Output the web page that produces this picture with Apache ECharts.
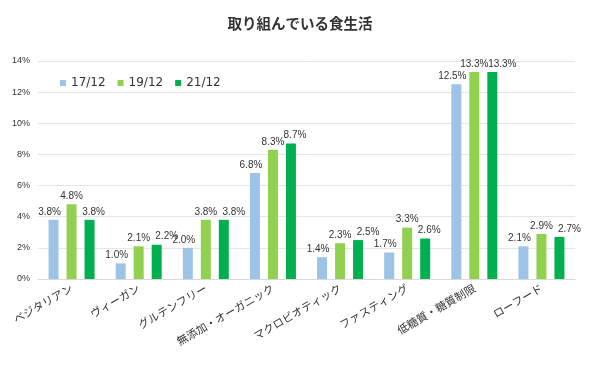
<!DOCTYPE html>
<html><head><meta charset="utf-8">
<script src="https://cdn.jsdelivr.net/npm/echarts@6/dist/echarts.min.js"></script>
<style>html,body{margin:0;padding:0;background:#fff}#c{width:600px;height:369px}</style>
</head><body><div id="c"></div>
<script>
const categories = ['ベジタリアン','ヴィーガン','グルテンフリー','無添加・オーガニック','マクロビオティック','ファスティング','低糖質・糖質制限','ローフード'];
const seriesNames = ['17/12','19/12','21/12'];
const s1712 = [3.8,1.0,2.0,6.8,1.4,1.7,12.5,2.1];
const s1912 = [4.8,2.1,3.8,8.3,2.3,3.3,13.3,2.9];
const s2112 = [3.8,2.2,3.8,8.7,2.5,2.6,13.3,2.7];
const colors = ['#9dc3e6','#92d050','#00b050'];
const font = '"Noto Sans CJK JP", "Liberation Sans", sans-serif';
const chart = echarts.init(document.getElementById('c'));
const all = [s1712, s1912, s2112];
// horizontal nudge of value labels to keep neighbouring labels apart
function nudge(si, di) {
  if (si === 0) return -4;
  if (si === 1) return 0;
  const close = Math.abs(all[2][di] - all[1][di]) < 0.35;
  return close ? 10 : 4;
}
const mk = (i, data) => ({
  name: seriesNames[i], type:'bar', data, barWidth:10, barGap:'80%',
  itemStyle:{color: colors[i]},
  label:{show:true, position:'top', formatter: p => p.value.toFixed(1)+'%', fontSize:10, color:'#333', fontFamily:'"Liberation Sans",sans-serif', distance:3},
  labelLayout: p => ({dx: nudge(i, p.dataIndex)})
});
chart.setOption({
  animation:false,
  textStyle:{fontFamily:font},
  title:{text:'取り組んでいる食生活', left:'center', top:11, textStyle:{fontSize:14.5, fontWeight:'bold', color:'#333', fontFamily:font}},
  legend:{data:seriesNames, left:55, top:72, itemWidth:6, itemHeight:6, itemGap:12, icon:'rect',
    textStyle:{fontSize:12, color:'#333', fontFamily:'"DejaVu Sans",sans-serif'}},
  grid:{left:38, right:25, top:61, bottom:90},
  xAxis:{type:'category', data:categories,
    axisLine:{lineStyle:{color:'#d9d9d9'}}, axisTick:{show:false},
    axisLabel:{interval:0, rotate:30, fontSize:11, color:'#333', margin:8, fontFamily:font}},
  yAxis:{type:'value', min:0, max:14, interval:2,
    axisLabel:{formatter:'{value}%', fontSize:9, color:'#333', fontFamily:'"Liberation Sans",sans-serif'},
    splitLine:{lineStyle:{color:'#e6e6e6'}}, axisLine:{show:false}, axisTick:{show:false}},
  series:[mk(0, s1712), mk(1, s1912), mk(2, s2112)]
});
</script></body></html>
